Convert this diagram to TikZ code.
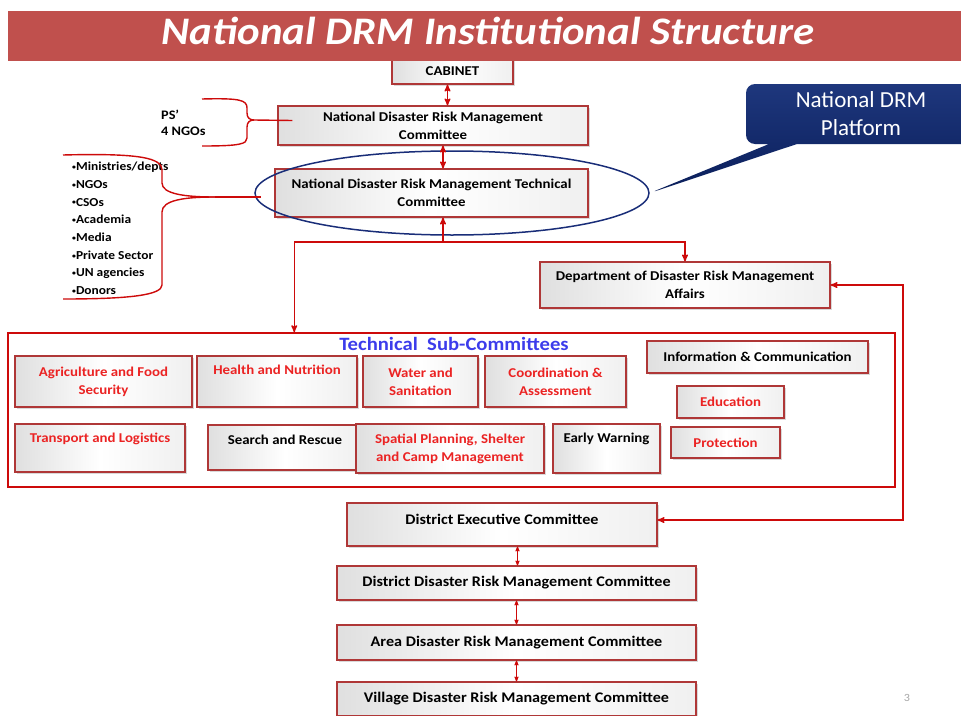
\documentclass[tikz,border=0pt]{standalone}
\usepackage{fontspec}
\setmainfont{Carlito}[FakeStretch=1.1]
\newfontfamily\platformfont{Carlito}
\usetikzlibrary{arrows,shapes.geometric,shapes.callouts,shadows}

\definecolor{bannerred}{RGB}{192,80,77}
\definecolor{boxred}{RGB}{175,55,55}
\definecolor{linkred}{RGB}{205,10,10}
\definecolor{subred}{RGB}{235,35,35}
\definecolor{subblue}{RGB}{60,60,235}
\definecolor{navytop}{RGB}{30,55,125}
\definecolor{navybot}{RGB}{10,30,90}
\definecolor{ringblue}{RGB}{25,45,120}

\newcommand{\itemdot}{\raisebox{0.2ex}{\scriptsize\textbullet}}

\tikzset{
  box/.style={rectangle, draw=boxred, line width=1.1pt, inner sep=0pt, align=center,
    left color=gray!25, right color=gray!12, middle color=white,
    drop shadow={shadow xshift=1.5pt, shadow yshift=-1.5pt, opacity=.3},
    font=\bfseries\fontsize{13.5}{18}\selectfont},
  subbox/.style={box, text=subred},
  lowbox/.style={box, font=\bfseries\fontsize{14.7}{18}\selectfont},
  link/.style={draw=linkred, line width=1.4pt},
  thinlink/.style={draw=linkred, line width=.8pt},
}

\begin{document}
\begin{tikzpicture}[x=1pt, y=-1pt, >=stealth']
\useasboundingbox (0,0) rectangle (961,715);
\clip (0,0) rectangle (961,715);

% national level
\node[box, minimum width=121pt, minimum height=26pt] (cabinet) at (452.5,71) {CABINET};
\node[fill=bannerred, minimum width=953pt, minimum height=50pt, inner sep=0pt, anchor=north west] (banner) at (8,11) {};
\node[text=white, font=\bfseries\itshape\fontsize{39}{44}\selectfont] (title) at (488,31) {National DRM Institutional Structure};

\node[box, minimum width=310pt, minimum height=39pt] (ndrmc) at (433,125.5) {National Disaster Risk Management\\Committee};
\node[box, minimum width=313pt, minimum height=48pt] (ndrmtc) at (431.5,193) {National Disaster Risk Management Technical\\Committee};
\node[box, minimum width=290pt, minimum height=46pt] (dodrma) at (685,285) {Department of Disaster Risk Management\\Affairs};

\node[draw=ringblue, line width=1.5pt, ellipse, minimum width=394pt, minimum height=84pt, inner sep=0pt] (ring) at (452,193) {};

\node[rectangle callout, rounded corners=9pt, top color=navytop, bottom color=navybot, text=white,
  minimum width=230pt, minimum height=60pt, callout absolute pointer={(ring.east)}, callout pointer width=28pt,
  align=center, font=\platformfont\fontsize{23}{28}\selectfont] (platform) at (861,114) {National DRM\\Platform};

% members
\node[anchor=west, align=left, inner sep=0pt, font=\bfseries\fontsize{13}{16.5}\selectfont] (psngo) at (161,123) {PS'\\4 NGOs};
\node[anchor=north west, align=left, inner sep=0pt, font=\bfseries\fontsize{12.2}{17.7}\selectfont] (stake) at (72,162)
{\itemdot Ministries/depts\\
 \itemdot NGOs\\
 \itemdot CSOs\\
 \itemdot Academia\\
 \itemdot Media\\
 \itemdot Private Sector\\
 \itemdot UN agencies\\
 \itemdot Donors};

\coordinate (psTip) at (254,120);
\draw[link] (202,99) .. controls (240,98) and (247,100) .. (247,108) -- (247,113) .. controls (247,118) and (250,120) .. (psTip);
\draw[link] (psTip) .. controls (250,120) and (247,122) .. (247,127) -- (247,138) .. controls (247,144) and (240,146) .. (202,146);
\draw[link] (psTip) -- ([xshift=15pt,yshift=5pt]ndrmc.west);

\coordinate (stTip) at (215,197);
\draw[link] (63,155) .. controls (140,153) and (162,158) .. (162,170) -- (162,183) .. controls (162,194) and (185,197) .. (stTip);
\draw[link] (stTip) .. controls (185,197) and (162,200) .. (162,212) -- (162,285) .. controls (162,295) and (130,299) .. (63,299);
\draw[link] (stTip) -- ([xshift=7pt,yshift=-4pt]ring.west);

% technical sub-committees
\node[draw=linkred, line width=1.5pt, minimum width=887pt, minimum height=154pt, inner sep=0pt] (tsc) at (451.5,410) {};
\node[text=subblue, font=\bfseries\fontsize{18.8}{22}\selectfont] (tsctitle) at (454,344) {Technical~ Sub-Committees};

\node[subbox, minimum width=177pt, minimum height=51pt] (agri) at (103.5,381.5) {Agriculture and Food\\Security};
\node[subbox, minimum width=160pt, text height=18pt, text depth=33pt] (health) at (277,381.5) {Health and Nutrition};
\node[subbox, minimum width=115pt, minimum height=51pt] (water) at (420.5,381.5) {Water and\\Sanitation};
\node[subbox, minimum width=141pt, minimum height=51pt] (coord) at (555.5,381.5) {Coordination \&\\Assessment};
\node[box, minimum width=221pt, minimum height=32pt] (info) at (757.5,357) {Information \& Communication};
\node[subbox, minimum width=107pt, minimum height=32pt] (edu) at (730.5,402) {Education};
\node[subbox, minimum width=109pt, minimum height=31pt] (prot) at (725.5,442.5) {Protection};
\node[subbox, minimum width=170pt, text height=18pt, text depth=30pt] (transport) at (100,448) {Transport and Logistics};
\node[box, minimum width=154pt, text height=19pt, text depth=26pt] (sar) at (285,447.5) {Search and Rescue};
\node[subbox, minimum width=188pt, minimum height=49pt] (spatial) at (450,448.5) {Spatial Planning, Shelter\\and Camp Management};
\node[box, minimum width=107pt, text height=18pt, text depth=31pt] (early) at (606.5,448.5) {Early Warning};

% district and below
\node[lowbox, minimum width=310pt, text height=21pt, text depth=22pt] (dec) at (502,524.5) {District Executive Committee};
\node[lowbox, minimum width=359pt, minimum height=34pt] (ddrmc) at (516.5,583) {District Disaster Risk Management Committee};
\node[lowbox, minimum width=359pt, minimum height=35pt] (adrmc) at (516.5,642.5) {Area Disaster Risk Management Committee};
\node[lowbox, minimum width=359pt, minimum height=34pt] (vdrmc) at (516.5,699) {Village Disaster Risk Management Committee};

\node[text=gray!70, font=\fontsize{11}{13}\selectfont] (pageno) at (907,698) {3};

% connectors
\draw[link,<->] ([xshift=-5pt]cabinet.south) -- ([xshift=-5pt]cabinet.south |- ndrmc.north);
\draw[link,<->] ([xshift=10pt]ndrmc.south) -- ([xshift=10pt]ndrmc.south |- ndrmtc.north);
\coordinate (split) at (443,242);
\draw[link,->] (split) -- (split |- ndrmtc.south);
\draw[link,->] (split) -| ([xshift=287pt]tsc.north west);
\draw[link,->] (split) -| (dodrma.north);
\coordinate (rjog) at (903,285);
\draw[link,<->] (dodrma.east) -- (rjog) |- ([yshift=4.5pt]dec.east);
\draw[thinlink,<->] ([xshift=1pt]ddrmc.north) -- ([xshift=1pt]ddrmc.north |- dec.south);
\draw[thinlink,<->] (ddrmc.south) -- (adrmc.north);
\draw[thinlink,<->] (adrmc.south) -- (vdrmc.north);
\end{tikzpicture}
\end{document}
